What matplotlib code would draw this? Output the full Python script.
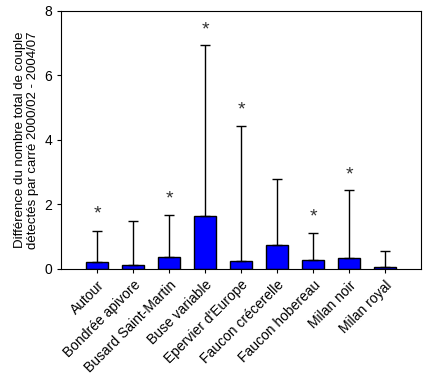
import numpy as np
import matplotlib.pyplot as plt

plt.rcParams['font.family'] = ['Liberation Sans', 'DejaVu Sans']

especes = ['Autour', 'Bondrée apivore', 'Busard Saint-Martin', 'Buse variable',
           "Epervier d'Europe", 'Faucon crécerelle', 'Faucon hobereau',
           'Milan noir', 'Milan royal']
moyennes = [0.21, 0.11, 0.36, 1.63, 0.24, 0.73, 0.27, 0.33, 0.06]
hauts_erreur = [1.18, 1.49, 1.66, 6.93, 4.42, 2.78, 1.10, 2.44, 0.55]
etoiles = [1.85, None, 2.31, 7.56, 5.07, None, 1.76, 3.07, None]

fig = plt.figure(figsize=(4.46, 3.84), dpi=100)
ax = fig.add_axes([0.137, 0.2995, 0.807, 0.673])

x = np.arange(len(especes))
err = np.array(hauts_erreur) - np.array(moyennes)
ax.bar(x, moyennes, width=0.62, color='#0000ff', edgecolor='black', linewidth=1,
       yerr=[np.zeros(len(x)), err], capsize=3.5,
       error_kw=dict(elinewidth=1, capthick=1, ecolor='black'), zorder=2)

# asterisques de significativite
for i, s in enumerate(etoiles):
    if s is not None:
        ax.annotate('*', (i, s), xytext=(0, -3.5), textcoords='offset points',
                    ha='center', va='center', fontsize=14, color='#333333')

ax.set_xlim(-1, 9)
ax.set_ylim(0, 8)
ax.set_yticks([0, 2, 4, 6, 8])
ax.set_xticks(x)
ax.set_xticklabels(especes, rotation=45, ha='right', rotation_mode='anchor', fontsize=10)
ax.tick_params(axis='y', labelsize=10, length=3, direction='out')
ax.tick_params(axis='x', length=3, direction='out')
ax.set_ylabel('Différence du nombre total de couple\ndétectés par carré 2000/02 - 2004/07',
              fontsize=9.5, linespacing=1.1)

plt.savefig('out.png', dpi=100)
